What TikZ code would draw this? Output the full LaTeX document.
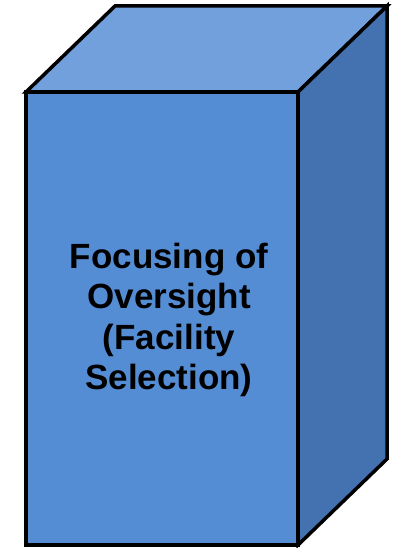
\documentclass[tikz,border=0pt]{standalone}
\usepackage{fontspec}
\setmainfont{Liberation Sans}
\definecolor{FrontBlue}{RGB}{85,141,213}
\definecolor{TopBlue}{RGB}{114,160,221}
\definecolor{SideBlue}{RGB}{68,114,176}
\begin{document}
\begin{tikzpicture}[x=1pt,y=-1pt,
  face/.style={draw=black,line width=3.5pt,line join=miter},
  boxtext/.style={font=\bfseries\fontsize{35}{40.5}\selectfont,align=center,inner sep=0pt}]
\useasboundingbox (0,0) rectangle (401,548);
% corners of the box
\coordinate (FTL) at (26,92);
\coordinate (FTR) at (298,92);
\coordinate (FBL) at (26,545);
\coordinate (FBR) at (298,545);
\coordinate (BTL) at (115,6);
\coordinate (BTR) at (387,6);
\coordinate (BBR) at (387,459);
% faces
\filldraw[face,fill=TopBlue] (FTL) -- (BTL) -- (BTR) -- (FTR) -- cycle;
\filldraw[face,fill=SideBlue] (FTR) -- (BTR) -- (BBR) -- (FBR) -- cycle;
\filldraw[face,fill=FrontBlue] (FTL) rectangle (FBR);
\node[boxtext] (label) at (169,320) {Focusing of\\Oversight\\(Facility\\Selection)};
\end{tikzpicture}
\end{document}
